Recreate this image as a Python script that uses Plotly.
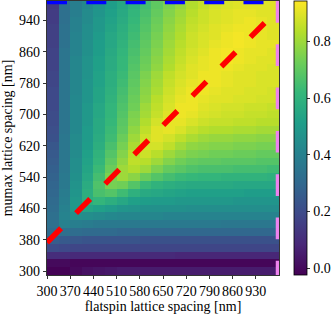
import plotly.graph_objects as go

# column centres (flatspin lattice spacing, nm) and row centres (mumax lattice spacing, nm)
flatspin_spacing = [317.5, 352.5, 387.5, 422.5, 457.5, 492.5, 527.5, 562.5, 597.5, 632.5,
                    667.5, 702.5, 737.5, 772.5, 807.5, 842.5, 877.5, 912.5, 947.5, 982.5]
mumax_spacing_top_down = list(range(980, 280, -20))

# estimated values, one row per mumax spacing from top (980) to bottom (300)
z_top_down = [
    [0.14,0.33,0.39,0.43,0.47,0.51,0.55,0.60,0.65,0.70,0.75,0.79,0.83,0.86,0.88,0.89,0.90,0.90,0.90,0.90],
    [0.15,0.33,0.39,0.44,0.48,0.52,0.56,0.61,0.66,0.71,0.76,0.80,0.84,0.87,0.89,0.90,0.91,0.91,0.90,0.90],
    [0.15,0.33,0.40,0.44,0.49,0.53,0.57,0.62,0.67,0.72,0.77,0.81,0.85,0.87,0.89,0.90,0.91,0.92,0.91,0.90],
    [0.16,0.34,0.40,0.45,0.49,0.54,0.58,0.63,0.68,0.73,0.78,0.82,0.86,0.88,0.90,0.91,0.92,0.92,0.91,0.90],
    [0.16,0.34,0.41,0.45,0.50,0.55,0.59,0.64,0.69,0.74,0.79,0.83,0.87,0.89,0.90,0.92,0.93,0.92,0.91,0.90],
    [0.16,0.34,0.41,0.46,0.51,0.55,0.60,0.65,0.70,0.75,0.80,0.84,0.87,0.89,0.91,0.92,0.93,0.92,0.91,0.91],
    [0.17,0.35,0.41,0.46,0.51,0.56,0.61,0.66,0.71,0.76,0.81,0.85,0.88,0.90,0.92,0.93,0.92,0.91,0.91,0.90],
    [0.17,0.35,0.42,0.47,0.52,0.57,0.62,0.67,0.72,0.77,0.82,0.86,0.89,0.91,0.92,0.93,0.92,0.91,0.90,0.90],
    [0.17,0.35,0.42,0.47,0.52,0.57,0.62,0.68,0.73,0.78,0.83,0.87,0.90,0.91,0.92,0.92,0.91,0.90,0.90,0.89],
    [0.18,0.35,0.42,0.47,0.53,0.58,0.63,0.69,0.75,0.80,0.85,0.88,0.90,0.92,0.92,0.91,0.90,0.90,0.89,0.89],
    [0.18,0.35,0.42,0.48,0.53,0.58,0.64,0.70,0.76,0.81,0.86,0.89,0.91,0.92,0.92,0.91,0.90,0.90,0.89,0.89],
    [0.19,0.35,0.42,0.48,0.54,0.59,0.65,0.71,0.77,0.82,0.87,0.90,0.92,0.92,0.91,0.90,0.90,0.89,0.89,0.88],
    [0.19,0.35,0.43,0.48,0.54,0.60,0.66,0.72,0.78,0.84,0.88,0.91,0.92,0.91,0.90,0.90,0.89,0.89,0.88,0.88],
    [0.19,0.35,0.43,0.49,0.55,0.61,0.67,0.73,0.80,0.85,0.89,0.92,0.92,0.90,0.89,0.88,0.88,0.87,0.87,0.86],
    [0.20,0.35,0.43,0.49,0.55,0.61,0.68,0.75,0.81,0.86,0.90,0.92,0.91,0.89,0.88,0.87,0.87,0.86,0.86,0.85],
    [0.20,0.35,0.43,0.49,0.56,0.62,0.69,0.76,0.83,0.88,0.91,0.91,0.89,0.87,0.86,0.86,0.85,0.85,0.84,0.84],
    [0.21,0.35,0.43,0.50,0.56,0.63,0.70,0.78,0.85,0.90,0.91,0.89,0.86,0.84,0.83,0.83,0.82,0.82,0.81,0.81],
    [0.22,0.36,0.44,0.50,0.57,0.64,0.72,0.80,0.87,0.90,0.88,0.85,0.82,0.80,0.79,0.79,0.78,0.78,0.77,0.77],
    [0.24,0.36,0.44,0.51,0.58,0.66,0.74,0.82,0.88,0.88,0.85,0.81,0.78,0.77,0.76,0.76,0.75,0.75,0.74,0.74],
    [0.25,0.36,0.44,0.52,0.60,0.68,0.76,0.84,0.87,0.84,0.80,0.77,0.75,0.74,0.73,0.73,0.72,0.72,0.71,0.71],
    [0.26,0.36,0.45,0.53,0.61,0.70,0.78,0.85,0.84,0.80,0.76,0.73,0.71,0.70,0.70,0.69,0.69,0.69,0.68,0.68],
    [0.27,0.36,0.45,0.54,0.63,0.72,0.80,0.83,0.80,0.75,0.71,0.69,0.67,0.66,0.66,0.66,0.65,0.65,0.65,0.64],
    [0.28,0.37,0.46,0.55,0.65,0.75,0.80,0.77,0.72,0.68,0.65,0.63,0.62,0.61,0.61,0.60,0.60,0.60,0.60,0.59],
    [0.29,0.37,0.47,0.57,0.67,0.74,0.73,0.68,0.63,0.60,0.58,0.57,0.56,0.56,0.56,0.56,0.55,0.55,0.55,0.55],
    [0.30,0.38,0.48,0.58,0.66,0.68,0.64,0.59,0.56,0.55,0.54,0.53,0.52,0.52,0.52,0.52,0.52,0.51,0.51,0.51],
    [0.31,0.39,0.49,0.58,0.61,0.58,0.55,0.52,0.51,0.50,0.50,0.49,0.49,0.49,0.49,0.49,0.48,0.48,0.48,0.48],
    [0.32,0.40,0.49,0.54,0.52,0.50,0.48,0.47,0.46,0.46,0.46,0.46,0.45,0.45,0.45,0.45,0.45,0.45,0.45,0.45],
    [0.33,0.41,0.46,0.45,0.44,0.43,0.42,0.42,0.42,0.42,0.41,0.41,0.41,0.41,0.41,0.41,0.41,0.41,0.41,0.41],
    [0.33,0.40,0.39,0.38,0.37,0.37,0.37,0.37,0.37,0.37,0.37,0.37,0.37,0.37,0.37,0.36,0.36,0.36,0.36,0.36],
    [0.31,0.33,0.32,0.31,0.31,0.31,0.30,0.30,0.30,0.30,0.30,0.30,0.30,0.30,0.30,0.30,0.30,0.30,0.30,0.30],
    [0.26,0.25,0.24,0.23,0.23,0.23,0.23,0.23,0.22,0.22,0.22,0.22,0.22,0.22,0.22,0.22,0.22,0.22,0.22,0.22],
    [0.20,0.19,0.18,0.18,0.18,0.18,0.18,0.18,0.18,0.18,0.18,0.18,0.18,0.18,0.18,0.18,0.18,0.18,0.18,0.18],
    [0.10,0.10,0.09,0.09,0.09,0.09,0.09,0.09,0.09,0.09,0.09,0.08,0.08,0.08,0.08,0.08,0.08,0.08,0.08,0.08],
    [0.00,0.00,-0.01,-0.01,-0.01,-0.01,-0.01,-0.01,-0.01,-0.01,-0.01,-0.01,-0.01,-0.01,-0.01,-0.01,-0.01,-0.01,-0.01,-0.01],
    [-0.02,-0.02,0.00,0.02,0.03,0.04,0.05,0.05,0.05,0.05,0.05,0.05,0.05,0.05,0.05,0.05,0.05,0.05,0.05,0.05],
]

x_ticks = [300, 370, 440, 510, 580, 650, 720, 790, 860, 930]
y_ticks = [300, 380, 460, 540, 620, 700, 780, 860, 940]
cbar_ticks = [0.0, 0.2, 0.4, 0.6, 0.8]
z_min, z_max = -0.024, 0.943

# reference lines
diag_x = [300, 1000]
diag_y = [373, 971]
top_x = [300, 1000]
top_y = [990, 990]
right_x = [1000, 1000]
right_y = [990, 290]

mumax_spacing = mumax_spacing_top_down[::-1]
z = z_top_down[::-1]

FONT = "Liberation Serif"

fig = go.Figure()
fig.add_trace(go.Heatmap(
    x=flatspin_spacing, y=mumax_spacing, z=z,
    colorscale="Viridis", zmin=z_min, zmax=z_max,
    colorbar=dict(
        x=1.063, xanchor="left", xpad=0, ypad=0,
        y=0.5, yanchor="middle", len=1, lenmode="fraction",
        thickness=13, outlinewidth=0.8, outlinecolor="black",
        ticks="outside", ticklen=3.5, tickwidth=0.8, tickcolor="black",
        tickvals=cbar_ticks, ticktext=[f"{v:.1f}" for v in cbar_ticks],
        tickfont=dict(family=FONT, size=14, color="black"),
    ),
))
fig.add_trace(go.Scatter(x=top_x, y=top_y, mode="lines",
                         line=dict(color="blue", width=6.5, dash="20px,19.3px"),
                         hoverinfo="skip"))
fig.add_trace(go.Scatter(x=right_x, y=right_y, mode="lines",
                         line=dict(color="violet", width=6.5, dash="21.7px,21.6px"),
                         hoverinfo="skip"))
fig.add_trace(go.Scatter(x=diag_x, y=diag_y, mode="lines",
                         line=dict(color="red", width=5.5, dash="20px,21.3px"),
                         hoverinfo="skip"))

axis_common = dict(
    showline=True, linecolor="black", linewidth=0.8, mirror=True,
    ticks="outside", ticklen=3.5, tickwidth=0.8, tickcolor="black",
    showgrid=False, zeroline=False,
    tickfont=dict(family=FONT, size=14, color="black"),
)
fig.update_xaxes(range=[300, 1000], tickvals=x_ticks,
                 title=dict(text="flatspin lattice spacing [nm]",
                            font=dict(family=FONT, size=14, color="black"), standoff=3),
                 **axis_common)
fig.update_yaxes(range=[290, 990], tickvals=y_ticks,
                 title=dict(text="mumax lattice spacing [nm]",
                            font=dict(family=FONT, size=14, color="black"), standoff=6),
                 **axis_common)
fig.update_layout(
    width=332, height=318,
    margin=dict(l=47, r=53, t=1, b=43, autoexpand=False),
    paper_bgcolor="white", plot_bgcolor="white",
    showlegend=False,
    font=dict(family=FONT, size=14, color="black"),
)
fig.write_html("out.html", config={"displayModeBar": False, "staticPlot": True})

# remove the browser's default page margin so the figure sits at the window origin
with open("out.html", encoding="utf-8") as fh:
    html = fh.read()
html = html.replace("<head>", "<head><style>html,body{margin:0;padding:0;overflow:hidden;}</style>", 1)
with open("out.html", "w", encoding="utf-8") as fh:
    fh.write(html)
